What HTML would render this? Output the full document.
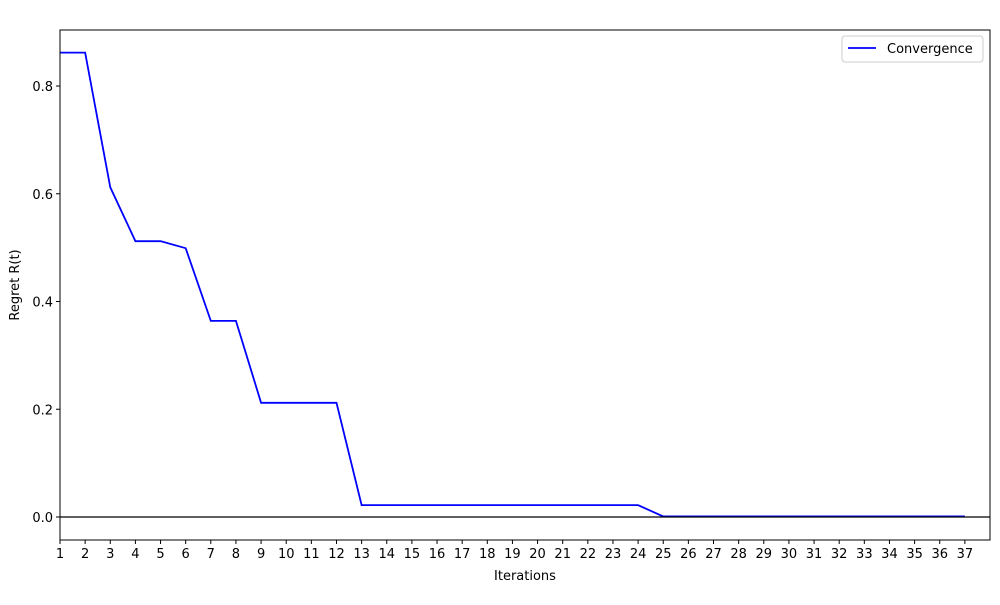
<!DOCTYPE html>
<html><head><meta charset="utf-8"><style>
body{margin:0;background:#fff;}
svg text{font-family:"DejaVu Sans","Liberation Sans",sans-serif;font-size:13px;fill:#000;}
</style></head><body>
<svg id="chart" width="1000" height="600">
<rect x="0" y="0" width="1000" height="600" fill="#fff"/>
<path id="line" fill="none" stroke="#0000ff" stroke-width="1.8"/>
<line id="zero" stroke="#000" stroke-width="1.2"/>
<rect x="60" y="30" width="930" height="510" fill="none" stroke="#000" stroke-width="1"/>
<g id="xt"></g>
<g id="yt"></g>
<text x="525" y="580" text-anchor="middle">Iterations</text>
<text transform="translate(19,285) rotate(-90)" text-anchor="middle">Regret R(t)</text>
<g>
<rect x="842" y="36" width="141" height="26" rx="3" fill="#fff" stroke="#ccc"/>
<line x1="848" y1="48" x2="876" y2="48" stroke="#0000ff" stroke-width="1.8"/>
<text x="887" y="53">Convergence</text>
</g>
</svg>
<script>
const iterations=[1,2,3,4,5,6,7,8,9,10,11,12,13,14,15,16,17,18,19,20,21,22,23,24,25,26,27,28,29,30,31,32,33,34,35,36,37];
const regret=[0.862,0.862,0.612,0.512,0.512,0.499,0.364,0.364,0.212,0.212,0.212,0.212,0.022,0.022,0.022,0.022,0.022,0.022,0.022,0.022,0.022,0.022,0.022,0.022,0.001,0.001,0.001,0.001,0.001,0.001,0.001,0.001,0.001,0.001,0.001,0.001,0.001];
const yTicks=[0,0.2,0.4,0.6,0.8];
const yTickLabels=["0.0","0.2","0.4","0.6","0.8"];
const xMin=1,xMax=38,yMin=-0.0427,yMax=0.904;
const L=60,R=990,T=30,B=540;
const sx=v=>L+(v-xMin)/(xMax-xMin)*(R-L);
const sy=v=>B-(v-yMin)/(yMax-yMin)*(B-T);
const NS="http://www.w3.org/2000/svg";
document.getElementById('line').setAttribute('d',iterations.map((x,i)=>(i?'L':'M')+sx(x)+','+sy(regret[i])).join(''));
const z=document.getElementById('zero');
z.setAttribute('x1',L);z.setAttribute('x2',R);z.setAttribute('y1',sy(0));z.setAttribute('y2',sy(0));
const xt=document.getElementById('xt');
iterations.forEach(v=>{
 const l=document.createElementNS(NS,'line');
 l.setAttribute('x1',sx(v));l.setAttribute('x2',sx(v));l.setAttribute('y1',B);l.setAttribute('y2',B+4);l.setAttribute('stroke','#000');
 
 
 xt.appendChild(l);
 const t=document.createElementNS(NS,'text');
 t.setAttribute('x',sx(v));t.setAttribute('y',B+18);t.setAttribute('text-anchor','middle');t.textContent=v;
 
 
 xt.appendChild(t);
});
const yt=document.getElementById('yt');
yTicks.forEach((v,i)=>{
 const l=document.createElementNS(NS,'line');
 l.setAttribute('x1',L-4);l.setAttribute('x2',L);l.setAttribute('y1',sy(v));l.setAttribute('y2',sy(v));l.setAttribute('stroke','#000');
 
 
 yt.appendChild(l);
 const t=document.createElementNS(NS,'text');
 t.setAttribute('x',L-7);t.setAttribute('y',sy(v)+5);t.setAttribute('text-anchor','end');t.textContent=yTickLabels[i];
 
 
 yt.appendChild(t);
});
</script>
</body></html>
